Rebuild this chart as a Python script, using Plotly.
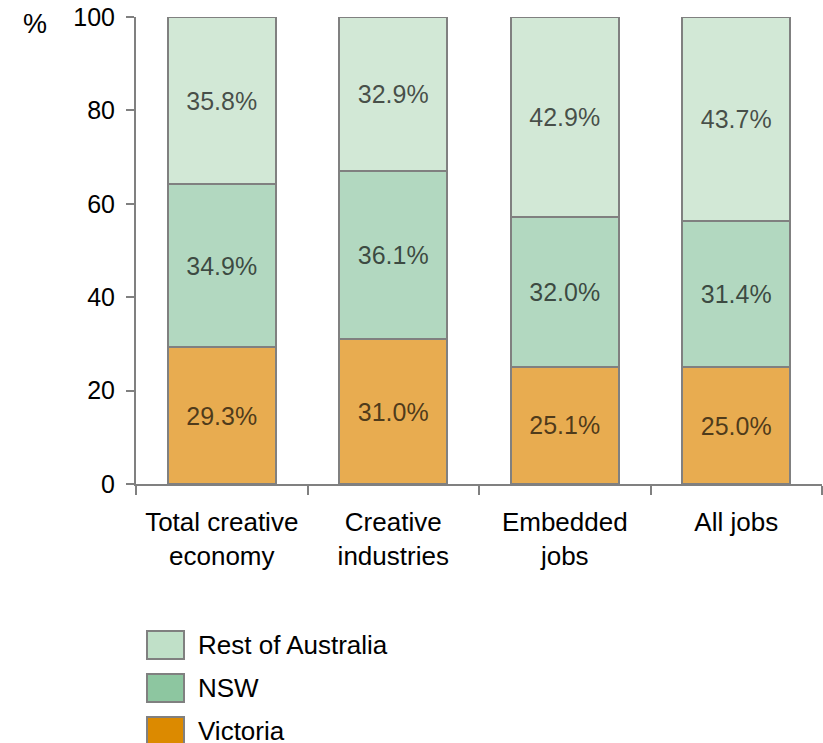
import plotly.graph_objects as go

categories = ["Total creative<br>economy", "Creative<br>industries", "Embedded<br>jobs", "All jobs"]
victoria = [29.3, 31.0, 25.1, 25.0]
nsw = [34.9, 36.1, 32.0, 31.4]
rest_of_australia = [35.8, 32.9, 42.9, 43.7]
y_ticks = [0, 20, 40, 60, 80, 100]

series = [
    ("Victoria", victoria, "#E8AC50", "#DC8A00"),
    ("NSW", nsw, "#B2D8C0", "#8DC6A0"),
    ("Rest of Australia", rest_of_australia, "#D2E8D6", "#C0E0C8"),
]

FONT = "Liberation Sans, Arial, sans-serif"
GREY = "#808080"

fig = go.Figure()
for name, vals, fill, _ in series:
    fig.add_trace(go.Bar(
        x=categories, y=vals, name=name,
        marker=dict(color=fill, line=dict(color=GREY, width=2)),
        texttemplate="%{y:.1f}%", textposition="inside",
        insidetextanchor="middle",
        textfont=dict(family=FONT, size=25, color="rgba(0,0,0,0.68)"),
        width=0.63, showlegend=False,
    ))

# Legend drawn as boxes + labels, top entry first
legend_rows = list(reversed(series))
y0 = 631
step = 43
for i, (name, _, _, swatch) in enumerate(legend_rows):
    top = y0 + i * step
    fig.add_shape(type="rect", xref="paper", yref="paper",
                  x0=(147 - 136) / 686, x1=(184 - 136) / 686,
                  y0=(743 - 259 - top) / 467, y1=(743 - 259 - top - 28) / 467,
                  fillcolor=swatch, line=dict(color=GREY, width=2))
    fig.add_annotation(xref="paper", yref="paper",
                       x=(196 - 136) / 686, y=(743 - 259 - top - 14) / 467,
                       text=name, showarrow=False, xanchor="left", yanchor="middle",
                       font=dict(family=FONT, size=26, color="black"))

fig.add_annotation(xref="paper", yref="paper", x=-(136 - 21) / 686, y=(484 - 24) / 467,
                   text="%", showarrow=False, xanchor="left", yanchor="middle",
                   font=dict(family=FONT, size=27, color="black"))

fig.update_layout(
    barmode="stack", width=823, height=743,
    margin=dict(l=136, r=1, t=17, b=259),
    plot_bgcolor="white", paper_bgcolor="white",
    font=dict(family=FONT, size=25, color="black"),
    bargap=0.37,
)
fig.update_xaxes(
    range=[-0.5, 3.5], showline=True, linecolor=GREY, linewidth=2,
    ticks="outside", tickson="boundaries", ticklen=9, tickwidth=2, tickcolor=GREY,
    showgrid=False, tickfont=dict(family=FONT, size=26, color="black"),
    ticklabelstandoff=14,
)
fig.update_yaxes(
    range=[0, 100], tickvals=y_ticks, showline=True, linecolor=GREY, linewidth=2,
    ticks="outside", ticklen=8, tickwidth=2, tickcolor=GREY, showgrid=False,
    zeroline=False, tickfont=dict(family=FONT, size=25, color="black"),
    ticklabelstandoff=6,
)

fig.write_html("out.html")
